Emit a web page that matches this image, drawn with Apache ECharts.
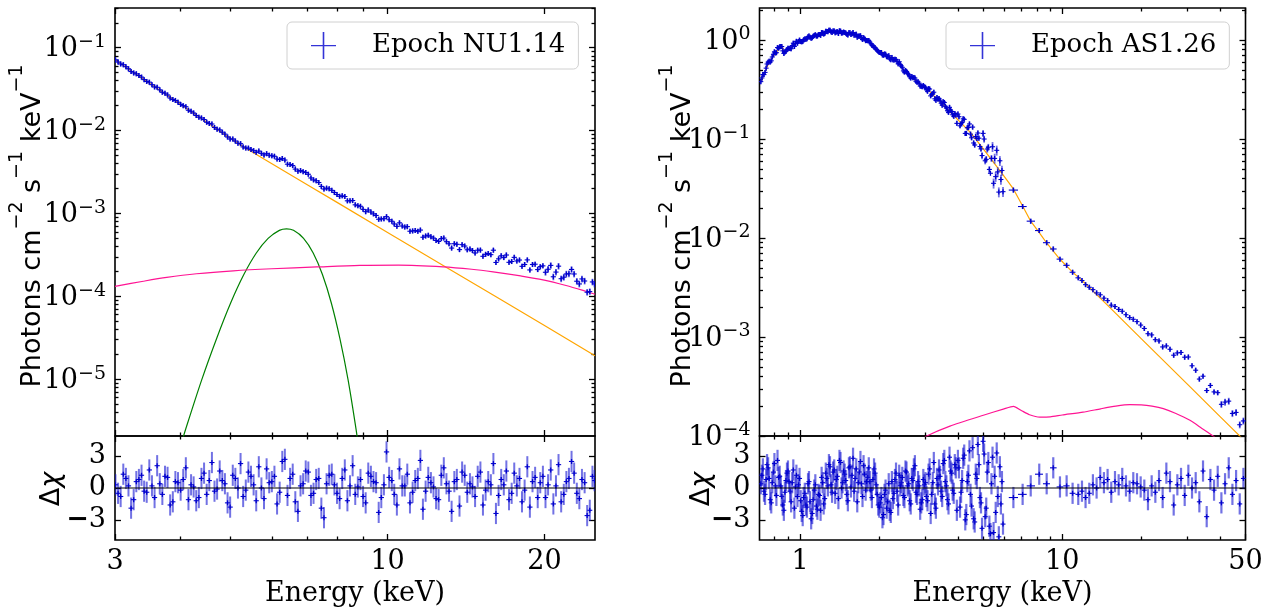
<!DOCTYPE html>
<html><head><meta charset="utf-8">
<script src="https://cdn.jsdelivr.net/npm/echarts@6/dist/echarts.min.js"></script>
<style>html,body{margin:0;padding:0;background:#fff}#c{width:1273px;height:608px}</style>
</head><body><div id="c"></div>
<script>
// ================= DATA =================
// ---- Epoch NU1.14 (NuSTAR), two interleaved sets of bins ----
const nuEnergy = [3.006,3.076,3.148,3.221,3.296,3.373,3.451,3.532,3.614,3.698,3.784,3.873,3.963,4.055,4.150,4.246,4.345,4.446,4.550,4.656,4.764,4.875,4.989,5.105,5.224,5.346,5.470,5.598,5.728,5.861,5.998,6.138,6.281,6.427,6.577,6.730,6.887,7.047,7.211,7.379,7.551,7.727,7.907,8.091,8.279,8.472,8.670,8.872,9.078,9.290,9.506,9.727,9.954,10.19,10.42,10.67,10.91,11.17,11.43,11.69,11.97,12.25,12.53,12.82,13.12,13.43,13.74,14.06,14.39,14.72,15.07,15.42,15.78,16.14,16.52,16.90,17.30,17.70,18.11,18.54,18.97,19.41,19.86,20.32,20.80,21.28,21.78,22.28,22.80,23.33,23.88,24.43,24.95];
const nuFlux = [0.0714,0.0637,0.0590,0.0516,0.0484,0.0442,0.0392,0.0358,0.0333,0.0290,
  0.0269,0.0237,0.0220,0.0200,0.0176,0.0163,0.0145,0.0136,0.0122,0.0109,
  0.01019,9.06e-3,7.91e-3,7.48e-3,6.95e-3,6.15e-3,5.93e-3,5.46e-3,5.31e-3,5.26e-3,
  4.96e-3,4.53e-3,4.59e-3,3.93e-3,3.78e-3,3.24e-3,3.19e-3,2.97e-3,2.54e-3,2.36e-3,
  1.97e-3,1.98e-3,1.79e-3,1.61e-3,1.60e-3,1.42e-3,1.27e-3,1.22e-3,1.05e-3,1.04e-3,
  9.46e-4,8.59e-4,9.14e-4,8.05e-4,6.98e-4,7.05e-4,6.93e-4,6.15e-4,6.08e-4,5.16e-4,
  5.45e-4,5.04e-4,4.59e-4,5.04e-4,4.30e-4,4.31e-4,3.66e-4,4.04e-4,3.71e-4,3.33e-4,
  3.61e-4,3.21e-4,3.18e-4,2.56e-4,3.08e-4,3.15e-4,2.63e-4,2.67e-4,2.30e-4,2.75e-4,
  2.42e-4,2.10e-4,2.33e-4,2.12e-4,1.72e-4,2.31e-4,1.70e-4,1.87e-4,1.86e-4,1.41e-4,
  1.53e-4,1.14e-4,1.41e-4];
const nuRelErr = [0.014,0.014,0.014,0.014,0.014,0.014,0.014,0.014,0.014,0.014,0.014,0.014,0.014,
  0.016,0.016,0.016,0.016,0.016,0.016,0.016,0.016,0.016,0.016,0.016,0.016,0.016,0.016,0.016,
  0.021,0.021,0.021,0.021,0.021,0.021,0.021,0.021,0.021,0.021,0.021,0.021,0.021,0.021,0.021,
  0.028,0.028,0.028,0.028,0.028,0.028,0.028,0.028,0.028,0.028,
  0.037,0.037,0.037,0.037,0.037,0.037,0.037,0.037,0.037,0.037,
  0.051,0.051,0.051,0.051,0.051,0.051,0.051,0.051,0.051,0.051,
  0.069,0.069,0.069,0.069,0.069,0.069,0.069,0.069,0.069,0.069,
  0.092,0.092,0.092,0.092,0.092,0.092,0.092,0.092,0.092,0.092];
const nuResid = [0.3,-0.8,0.9,-1.9,0.6,1.2,-0.4,0.2,2.1,-0.6,1.0,-1.3,0.5,0.8,-1.1,0.1,-0.9,1.4,0.7,-0.3,
  1.6,0.4,-1.8,0.9,2.3,-0.2,1.1,-1.2,0.0,1.8,0.6,-1.5,2.5,-0.7,1.3,-2.2,0.4,1.5,-0.5,0.9,
  -2.8,1.2,0.3,-1.0,1.7,0.2,-0.6,0.8,-1.4,1.1,0.5,-0.9,3.4,0.7,-1.6,0.2,1.3,-0.4,0.9,-2.0,
  1.0,0.1,-1.1,1.9,-0.3,0.6,-1.7,1.2,0.4,-0.8,1.5,-0.2,0.3,-2.4,0.8,1.6,-0.5,0.2,-1.3,2.0,
  0.6,-0.9,1.1,0.3,-1.5,2.2,-0.6,0.9,1.4,-1.0,0.5,-2.1,0.7];
const nuEnergyB = [3.041,3.112,3.184,3.258,3.334,3.412,3.491,3.573,3.656,3.741,3.828,3.917,4.009,4.102,4.198,4.295,4.395,4.498,4.603,4.710,4.819,4.932,5.047,5.164,5.284,5.408,5.534,5.662,5.794,5.929,6.067,6.209,6.353,6.501,6.653,6.808,6.966,7.129,7.295,7.464,7.638,7.816,7.998,8.185,8.375,8.570,8.770,8.974,9.183,9.397,9.616,9.840,10.07,10.30,10.54,10.79,11.04,11.30,11.56,11.83,12.11,12.39,12.68,12.97,13.27,13.58,13.90,14.22,14.55,14.89,15.24,15.60,15.96,16.33,16.71,17.10,17.50,17.91,18.32,18.75,19.19,19.63,20.09,20.56,21.04,21.53,22.03,22.54,23.07,23.60,24.15,24.72];
const nuFluxB = [0.0672,0.0624,0.0557,0.0497,0.0462,0.0412,0.0384,0.0336,0.0310,0.0283,
  0.0247,0.0231,0.0207,0.0194,0.0171,0.0152,0.0142,0.0126,0.0120,0.0104,
  9.56e-3,8.37e-3,7.91e-3,7.03e-3,6.35e-3,6.14e-3,5.72e-3,5.66e-3,5.08e-3,5.04e-3,
  4.90e-3,4.48e-3,4.41e-3,3.90e-3,3.43e-3,3.29e-3,3.12e-3,2.68e-3,2.48e-3,2.12e-3,
  2.02e-3,1.90e-3,1.69e-3,1.63e-3,1.42e-3,1.43e-3,1.24e-3,1.12e-3,1.10e-3,9.88e-4,
  8.51e-4,8.63e-4,8.39e-4,7.46e-4,7.70e-4,6.85e-4,6.10e-4,6.22e-4,6.30e-4,5.34e-4,
  5.22e-4,4.72e-4,4.97e-4,4.56e-4,3.82e-4,4.24e-4,4.20e-4,3.64e-4,3.57e-4,3.60e-4,
  3.04e-4,3.28e-4,3.60e-4,2.83e-4,2.93e-4,2.57e-4,2.95e-4,2.74e-4,2.42e-4,2.08e-4,
  2.44e-4,2.28e-4,1.95e-4,2.36e-4,1.96e-4,1.63e-4,1.86e-4,2.11e-4,1.52e-4,1.62e-4,
  1.12e-4,1.49e-4];
const nuRelErrB = [0.014,0.014,0.014,0.014,0.014,0.014,0.014,0.014,0.014,0.014,0.014,0.014,
  0.016,0.016,0.016,0.016,0.016,0.016,0.016,0.016,0.016,0.016,0.016,0.016,0.016,0.016,0.016,
  0.021,0.021,0.021,0.021,0.021,0.021,0.021,0.021,0.021,0.021,0.021,0.021,0.021,0.021,0.021,
  0.028,0.028,0.028,0.028,0.028,0.028,0.028,0.028,0.028,0.028,
  0.037,0.037,0.037,0.037,0.037,0.037,0.037,0.037,0.037,0.037,
  0.051,0.051,0.051,0.051,0.051,0.051,0.051,0.051,0.051,0.051,
  0.069,0.069,0.069,0.069,0.069,0.069,0.069,0.069,0.069,0.069,
  0.092,0.092,0.092,0.092,0.092,0.092,0.092,0.092,0.092,0.092];
const nuResidB = [-0.5,1.3,0.2,-1.1,0.8,-0.3,1.7,-0.9,0.4,1.1,-1.6,0.6,-0.2,1.9,0.3,-1.2,0.9,-0.6,2.4,-0.1,
  0.7,-1.4,1.2,0.0,-0.8,1.5,0.3,2.0,-1.0,0.5,1.1,-0.4,2.7,0.9,-1.3,0.2,1.6,-0.7,0.8,-1.9,
  0.4,1.3,-0.5,0.9,-1.2,2.1,0.1,-0.8,1.4,0.6,-2.3,0.3,1.0,-0.6,1.8,0.2,-1.4,0.7,2.6,-0.3,
  0.5,-1.0,1.2,0.4,-2.2,0.8,1.5,-0.4,0.1,1.1,-1.6,0.6,2.3,-0.7,0.3,-1.1,1.4,0.9,-0.2,-1.8,
  1.0,0.5,-0.9,1.7,0.2,-1.3,0.6,2.5,-0.5,0.8,-2.6,1.1];
// model components (NU1.14)
const nuContE = [3,3.5,4,4.5,5,5.29,5.5,6,7,8,10,13,16,20,25];
const nuContF = [0.0717,0.0371,0.0209,0.01264,8.05e-3,6.37e-3,5.51e-3,3.98e-3,2.23e-3,1.36e-3,5.90e-4,2.21e-4,1.02e-4,4.43e-5,1.92e-5];
const nuLineE = [4.0,4.1,4.4,4.7,5.0,5.3,5.6,5.9,6.2,6.4,6.6,6.9,7.2,7.5,7.8,8.1,8.4,8.7,8.8];
const nuLineF = [1.5e-6,2.5e-6,9.8e-6,3.1e-5,8.3e-5,1.83e-4,3.33e-4,5.0e-4,6.25e-4,6.52e-4,6.25e-4,5.0e-4,3.33e-4,1.83e-4,8.3e-5,3.1e-5,9.8e-6,2.5e-6,1.5e-6];
const nuReflE = [3,3.4,3.77,4.3,5.06,6.0,7.31,8.85,10.5,12.78,14.5,15.94,18,19.87,22,24,25];
const nuReflF = [1.32e-4,1.52e-4,1.69e-4,1.87e-4,2.03e-4,2.15e-4,2.26e-4,2.36e-4,2.38e-4,2.27e-4,2.12e-4,1.97e-4,1.76e-4,1.58e-4,1.35e-4,1.15e-4,1.06e-4];

// ---- Epoch AS1.26 (AstroSat SXT + LAXPC) ----
const sxtEnergy = [0.708,0.721,0.735,0.748,0.762,0.776,0.791,0.805,0.820,0.836,
  0.851,0.867,0.883,0.899,0.916,0.933,0.951,0.968,0.986,1.005,
  1.023,1.042,1.062,1.081,1.102,1.122,1.143,1.164,1.186,1.208,
  1.230,1.253,1.276,1.300,1.324,1.349,1.374,1.400,1.426,1.452,
  1.479,1.507,1.535,1.563,1.592,1.622,1.652,1.683,1.714,1.746,
  1.778,1.811,1.845,1.879,1.914,1.950,1.986,2.023,2.061,2.099,
  2.138,2.178,2.218,2.259,2.301,2.344,2.388,2.432,2.477,2.523,
  2.570,2.618,2.667,2.716,2.767,2.818,2.871,2.924,2.979,3.034,
  3.090,3.148,3.206,3.266,3.327,3.388,3.451,3.516,3.581,3.648,
  3.715,3.784,3.855,3.926,3.999,4.074,4.150,4.227,4.305,4.385,
  4.467,4.550,4.634,4.721,4.808,4.898,4.989,5.082,5.176,5.272,
  5.370,5.420,5.470,5.521,5.572,5.623,5.675,5.728,5.781,5.834,
  5.888,5.943];
const sxtFlux = [0.380,0.448,0.471,0.573,0.612,0.617,0.718,0.741,0.839,0.855,
  0.859,0.733,0.769,0.826,0.820,0.879,0.861,0.970,0.968,0.964,
  0.965,1.026,1.028,1.096,1.042,1.089,1.130,1.099,1.138,1.189,
  1.148,1.225,1.216,1.253,1.194,1.236,1.208,1.164,1.230,1.183,
  1.191,1.143,1.186,1.140,1.189,1.140,1.069,1.096,1.050,1.057,
  0.986,0.984,0.953,0.887,0.849,0.809,0.766,0.748,0.708,0.723,
  0.679,0.695,0.634,0.632,0.640,0.603,0.604,0.547,0.488,0.493,
  0.458,0.426,0.428,0.419,0.383,0.378,0.343,0.338,0.337,0.314,
  0.323,0.273,0.286,0.255,0.263,0.257,0.230,0.238,0.214,0.193,
  0.209,0.190,0.170,0.175,0.179,0.136,0.147,0.158,0.114,0.131,
  0.112,0.132,0.0871,0.101,0.102,0.0794,0.114,0.0603,0.0793,0.0493,
  0.0638,0.0836,0.0357,0.0637,0.0417,0.0769,0.0466,0.0291,0.0603,0.0390,
  0.0481,0.0294];
const sxtRelErr = [0.028,0.028,0.028,0.028,0.028,0.028,0.028,0.028,0.028,0.028,0.028,0.028,0.028,0.028,0.028,0.028,0.028,0.028,0.028,
  0.018,0.018,0.018,0.018,0.018,0.018,0.018,0.018,0.018,0.018,0.018,0.018,0.018,0.018,0.018,0.018,0.018,0.018,0.018,
  0.018,0.018,0.018,0.018,0.018,0.018,0.018,0.018,0.018,0.018,0.018,0.018,0.018,0.018,0.018,0.018,0.018,0.018,0.018,
  0.023,0.023,0.023,0.023,0.023,0.023,0.023,0.023,0.023,0.023,0.023,0.023,0.023,0.023,0.023,0.023,0.023,0.023,0.023,0.023,0.023,0.023,
  0.032,0.032,0.032,0.032,0.032,0.032,0.032,0.032,0.032,0.032,0.032,0.032,0.032,0.032,0.032,
  0.051,0.051,0.051,0.051,0.051,0.051,0.051,0.051,0.051,0.051,0.051,0.051,
  0.081,0.081,0.081,0.081,0.081,
  0.115,0.115,0.115,0.115,0.115,0.115,0.115,0.115,0.115,0.115,0.115];
const sxtResid = [0.4,1.8,-0.6,2.2,0.9,-1.4,1.5,0.2,2.6,1.1,-0.8,-2.1,0.7,1.6,-0.3,0.5,-1.9,1.2,0.3,
  -1.2,-2.6,-0.5,-1.8,0.6,-2.9,-1.1,0.3,-2.0,-0.7,1.0,-1.5,
  1.4,0.2,2.0,-0.4,1.7,0.8,-1.0,2.4,0.5,1.3,-0.6,1.9,0.1,2.8,0.9,-1.3,1.5,0.4,2.1,-0.2,1.0,0.6,-0.9,1.8,0.3,-1.6,
  -1.4,-2.8,-0.6,-1.9,0.4,-2.3,-1.0,0.8,-0.3,1.2,0.5,-0.7,1.6,0.2,-1.2,0.9,1.8,-0.4,0.6,-2.0,-1.1,0.3,
  -0.8,1.3,-2.4,0.5,-1.5,0.9,1.7,-0.3,2.3,0.6,-1.1,2.9,1.4,-0.5,1.9,
  2.6,-1.8,0.7,3.1,-2.5,1.2,-0.6,3.8,-3.2,0.9,2.2,-1.4,4.4,-2.7,1.5,-3.6,0.4,
  2.9,-4.2,1.1,-2.3,3.3,-0.8,-4.6,2.0,-1.5,0.6,-3.4];
const sxtEnergyB = [0.715,0.728,0.742,0.755,0.769,0.783,0.798,0.812,0.828,0.844,
  0.859,0.875,0.891,0.907,0.924,0.942,0.960,0.977,0.995,1.014,
  1.032,1.052,1.072,1.091,1.112,1.132,1.154,1.175,1.197,1.219,
  1.241,1.265,1.288,1.312,1.336,1.361,1.387,1.413,1.439,1.465,
  1.493,1.521,1.549,1.577,1.607,1.637,1.667,1.699,1.730,1.762,
  1.794,1.828,1.862,1.896,1.932,1.968,2.004,2.042,2.080,2.118,
  2.158,2.198,2.239,2.280,2.322,2.366,2.410,2.454,2.500,2.546,
  2.594,2.642,2.692,2.741,2.793,2.844,2.898,2.951,3.007,3.062,
  3.119,3.177,3.236,3.296,3.358,3.419,3.483,3.549,3.614,3.682,
  3.749,3.819,3.891,3.962,4.036,4.112,4.188,4.266,4.345,4.426,
  4.508,4.592,4.677,4.765,4.852,4.943,5.035,5.129,5.224,5.321];
const sxtFluxB = [0.414,0.448,0.520,0.598,0.600,0.674,0.760,0.745,0.828,0.859,
  0.778,0.757,0.803,0.823,0.817,0.930,0.926,0.929,0.998,0.959,
  1.006,1.018,1.081,1.066,1.057,1.114,1.098,1.134,1.116,1.184,
  1.166,1.222,1.259,1.212,1.233,1.183,1.213,1.240,1.175,1.203,
  1.175,1.126,1.184,1.159,1.120,1.145,1.090,1.104,1.014,1.028,
  0.989,0.988,0.918,0.874,0.835,0.788,0.749,0.748,0.702,0.718,
  0.678,0.646,0.667,0.630,0.637,0.575,0.566,0.530,0.475,0.482,
  0.451,0.414,0.417,0.413,0.374,0.367,0.342,0.347,0.333,0.304,
  0.320,0.283,0.297,0.246,0.252,0.247,0.220,0.234,0.206,0.186,
  0.196,0.176,0.181,0.144,0.168,0.143,0.160,0.114,0.130,0.142,
  0.103,0.0912,0.106,0.115,0.0840,0.0681,0.100,0.0623,0.0826,0.0451];
const sxtRelErrB = [0.028,0.028,0.028,0.028,0.028,0.028,0.028,0.028,0.028,0.028,0.028,0.028,0.028,0.028,0.028,0.028,0.028,0.028,0.028,
  0.018,0.018,0.018,0.018,0.018,0.018,0.018,0.018,0.018,0.018,0.018,0.018,0.018,0.018,0.018,0.018,0.018,0.018,0.018,
  0.018,0.018,0.018,0.018,0.018,0.018,0.018,0.018,0.018,0.018,0.018,0.018,0.018,0.018,0.018,0.018,0.018,
  0.023,0.023,0.023,0.023,0.023,0.023,0.023,0.023,0.023,0.023,0.023,0.023,0.023,0.023,0.023,0.023,0.023,0.023,0.023,0.023,0.023,0.023,
  0.032,0.032,0.032,0.032,0.032,0.032,0.032,0.032,0.032,0.032,0.032,0.032,0.032,0.032,0.032,
  0.051,0.051,0.051,0.051,0.051,0.051,0.051,0.051,0.051,0.051,0.051,0.051,0.051,
  0.081,0.081,0.081,0.081];
const sxtResidB = [1.2,-0.3,0.8,1.9,-1.1,0.5,2.3,-0.7,1.0,0.2,-1.6,-0.4,1.4,0.6,-1.3,1.7,0.1,-0.8,0.9,
  -2.2,-0.9,-1.6,0.4,-1.3,-2.4,-0.2,-1.7,-0.6,-2.1,0.5,-1.0,
  0.9,2.2,0.3,1.5,-0.5,1.1,2.6,0.0,1.6,0.7,-1.2,2.0,1.2,-0.3,1.8,0.5,2.5,-0.8,1.3,0.6,1.9,-0.2,0.8,1.4,-0.6,
  -1.8,-0.9,-2.5,-0.2,-1.3,-2.1,0.6,-0.5,1.4,-1.6,0.2,1.0,-0.9,1.5,0.4,-1.5,0.7,2.1,-0.6,0.2,-1.4,0.8,
  0.5,-1.2,1.8,-0.6,2.4,-1.9,0.3,1.1,-0.8,2.6,0.2,-1.5,1.6,-0.2,2.2,
  -2.1,1.9,-0.4,2.8,-3.0,0.6,3.5,-1.7,-2.9,1.3,4.1,-0.9,-3.8,
  3.2,-1.9,2.4,-4.3];
const laxEnergy = [6.51,7.06,7.58,8.17,8.72,9.24,9.80,10.39,10.95,11.51,
  11.89,12.27,12.68,13.09,13.52,13.96,14.42,14.89,15.38,15.89,16.41,16.94,17.50,18.07,18.66,19.28,19.91,
  20.56,21.23,21.93,22.65,23.39,24.15,24.95,25.76,26.61,27.48,28.38,29.31,30.27,31.26,32.28,33.34,34.43,
  35.56,36.73,37.93,39.17,40.46,41.78,43.15,44.57,46.03,47.53,49.09];
const laxFlux = [3.05e-2,2.08e-2,1.48e-2,1.19e-2,8.97e-3,7.75e-3,6.12e-3,5.30e-3,4.51e-3,3.96e-3,
  3.72e-3,3.38e-3,3.18e-3,3.01e-3,2.79e-3,2.67e-3,2.47e-3,2.33e-3,2.10e-3,2.03e-3,
  1.90e-3,1.82e-3,1.68e-3,1.57e-3,1.51e-3,1.43e-3,1.32e-3,1.22e-3,1.08e-3,1.05e-3,
  9.40e-4,9.12e-4,7.94e-4,8.13e-4,7.52e-4,6.55e-4,6.90e-4,6.98e-4,6.25e-4,6.28e-4,
  5.12e-4,4.62e-4,3.76e-4,4.02e-4,2.88e-4,3.24e-4,2.79e-4,2.74e-4,2.09e-4,2.20e-4,
  2.25e-4,1.69e-4,1.73e-4,1.30e-4,1.42e-4];
const laxRelErr = [0.028,0.028,0.028,0.028,0.028,0.028,0.028,0.028,0.028,0.028,0.028,0.028,0.028,0.028,
  0.028,0.028,0.028,0.028,0.028,0.028,0.028,0.028,0.028,0.028,0.028,0.028,0.028,
  0.041,0.041,0.041,0.041,0.041,0.041,0.041,0.041,0.041,0.041,0.041,0.041,
  0.058,0.058,0.058,0.058,0.058,0.058,0.058,0.058,0.058,
  0.081,0.081,0.081,0.081,0.081,0.081,0.081];
const laxResid = [-0.9,-0.6,0.2,1.3,0.4,1.9,0.1,0.2,-0.5,-0.6,-0.3,-0.9,-0.5,0.3,0.0,1.0,0.5,0.8,-0.4,0.6,
  0.3,0.9,0.2,-0.3,0.5,0.4,0.1,-0.2,-1.1,0.2,-0.4,0.7,-0.9,1.4,0.6,-1.6,0.3,0.9,-0.7,1.2,
  0.0,0.5,-1.3,1.6,-2.7,0.8,-0.2,1.1,-1.4,0.4,1.9,-0.6,0.7,-1.5,0.9];
// model components (AS1.26)
const asContE = [0.708,0.735,0.762,0.791,0.820,0.851,0.860,0.867,0.883,0.916,0.951,1.005,1.062,1.122,1.208,1.276,1.349,1.426,1.535,1.622,1.714,1.811,1.845,1.879,1.914,2.023,2.138,2.301,2.388,2.432,2.477,2.667,2.871,3.090,3.388,3.715,4.074,4.467,4.898,5.370,5.888,6.51,7.06,7.58,8.17,8.72,9.80,10.95,12.27,15,20,30,40,50];
const asContF = [0.376,0.479,0.597,0.689,0.782,0.879,0.891,0.776,0.755,0.828,0.908,0.986,1.062,1.112,1.167,1.211,1.197,1.178,1.146,1.122,1.042,0.966,0.942,0.902,0.822,0.773,0.710,0.628,0.587,0.541,0.495,0.419,0.359,0.310,0.243,0.191,0.149,0.116,0.0853,0.0618,0.0449,0.0313,0.0211,0.0148,0.01135,8.91e-3,6.10e-3,4.52e-3,3.45e-3,2.05e-3,9.64e-4,3.34e-4,1.57e-4,8.77e-5];
const asReflE = [2.9,3.04,3.73,5.0,6.0,6.51,7.0,7.5,8.2,9.0,10,12,14,16,18.1,20,22,24.3,27,30.7,34,37.6,39];
const asReflF = [9.0e-5,1.0e-4,1.26e-4,1.62e-4,1.88e-4,1.99e-4,1.80e-4,1.64e-4,1.55e-4,1.56e-4,1.63e-4,1.74e-4,1.88e-4,2.0e-4,2.07e-4,2.06e-4,2.0e-4,1.89e-4,1.70e-4,1.44e-4,1.2e-4,1.0e-4,0.93e-4];

// ---- axes / ticks ----
const nuXRange = [3, 25];
const nuYRange = [2.06e-6, 0.3016];
const asXRange = [0.70, 50];
const asYRange = [1e-4, 2.107];
const residRange = [-4.9, 4.9];
const nuXMajor = [3, 10, 20];
const nuXLabels = ['3', '10', '20'];
const nuXMinor = [4, 5, 6, 7, 8, 9];
const asXMajor = [1, 10, 50];
const asXLabels = ['1', '10', '50'];
const asXMinor = [0.8, 0.9, 2, 3, 4, 5, 6, 7, 8, 9, 20, 30, 40];
const nuYMajor = [1e-5, 1e-4, 1e-3, 1e-2, 1e-1];
const asYMajor = [1e-4, 1e-3, 1e-2, 1e-1, 1];
const residTicks = [-3, 0, 3];
const legendNames = ['Epoch NU1.14', 'Epoch AS1.26'];

// ================= BUILD =================
const SERIF = "'DejaVu Serif', serif";
const SANS = "'DejaVu Sans', sans-serif";
const BLUE = '#0000cd';

function minorLog(range) {
  const out = [];
  for (let k = -7; k <= 1; k++) for (let m = 2; m <= 9; m++) {
    const v = Number((m * Math.pow(10, k)).toPrecision(6));
    if (v > range[0] && v < range[1]) out.push(v);
  }
  return out;
}
function edges(E) {
  const n = E.length, lo = [], hi = [];
  for (let i = 0; i < n; i++) {
    lo.push(i > 0 ? Math.sqrt(E[i - 1] * E[i]) : E[0] / Math.sqrt(E[1] / E[0]));
    hi.push(i < n - 1 ? Math.sqrt(E[i] * E[i + 1]) : E[n - 1] * Math.sqrt(E[n - 1] / E[n - 2]));
  }
  return { lo, hi };
}
function specRows(E, F, rel) {
  const e = edges(E);
  return E.map((x, i) => [x, F[i], e.lo[i], e.hi[i], F[i] * (1 - rel[i]), F[i] * (1 + rel[i])]);
}
function residRows(E, R) {
  const e = edges(E);
  return E.map((x, i) => [x, R[i], e.lo[i], e.hi[i], R[i] - 1, R[i] + 1]);
}
function pairs(X, Y) { return X.map((x, i) => [x, Y[i]]); }

function makeErrRender(barWidth) {
  return function (params, api) {
    const x = api.value(0), y = api.value(1);
    const c = api.coord([x, y]);
    const l = api.coord([api.value(2), y]), r = api.coord([api.value(3), y]);
    const b = api.coord([x, api.value(4)]), t = api.coord([x, api.value(5)]);
    const x1 = Math.min(l[0], c[0] - 2.5), x2 = Math.max(r[0], c[0] + 2.5);
    const y1 = Math.min(t[1], c[1] - 2.5), y2 = Math.max(b[1], c[1] + 2.5);
    return {
      type: 'group', children: [
        { type: 'line', shape: { x1: c[0], y1: y1, x2: c[0], y2: y2 }, style: { stroke: 'rgba(20,20,210,0.6)', lineWidth: barWidth } },
        { type: 'line', shape: { x1: x1, y1: c[1], x2: x2, y2: c[1] }, style: { stroke: BLUE, lineWidth: 1.1 } },
        { type: 'line', shape: { x1: c[0], y1: c[1] - 2.5, x2: c[0], y2: c[1] + 2.5 }, style: { stroke: BLUE, lineWidth: 1.3 } }
      ]
    };
  };
}

function supLabel(v) {
  const e = Math.round(Math.log10(v));
  return '{b|10}{s|' + (e < 0 ? '\u2212' + (-e) : String(e)) + '}';
}
const supRich = {
  b: { fontFamily: SERIF, fontSize: 27, lineHeight: 30, verticalAlign: 'bottom', color: '#000' },
  s: { fontFamily: SERIF, fontSize: 19, lineHeight: 20, verticalAlign: 'top', color: '#000' }
};
function residLabel(v) { return v < 0 ? '{m|\u2212}{n|' + (-v) + '}' : '{n|' + v + '}'; }
const residRich = {
  m: { fontFamily: SERIF, fontSize: 27, fontWeight: 'bold', color: '#000' },
  n: { fontFamily: SERIF, fontSize: 27, color: '#000' }
};

const xAxes = [], yAxes = [];
function tickAxis(base, pos, values, len, label) {
  return Object.assign({}, base, {
    position: pos,
    axisLine: { show: false, onZero: false },
    splitLine: { show: false },
    axisTick: { show: values.length > 0, inside: true, length: len, lineStyle: { color: '#000', width: 1.3 }, customValues: values },
    axisLabel: label ? Object.assign({ show: true, customValues: values }, label) : { show: false },
    axisPointer: { show: false }
  });
}
function addX(grid, range, major, minor, label, name) {
  const base = { gridIndex: grid, type: 'log', logBase: 10, min: range[0], max: range[1] };
  const idx = xAxes.length;
  const main = tickAxis(base, 'bottom', major, 6, label);
  if (name) Object.assign(main, { name: name, nameLocation: 'middle', nameGap: 40, nameTextStyle: { fontFamily: SERIF, fontSize: 27, color: '#000' } });
  xAxes.push(main, tickAxis(base, 'bottom', minor, 3.5, null), tickAxis(base, 'top', major, 6, null), tickAxis(base, 'top', minor, 3.5, null));
  return idx;
}
function addY(grid, type, range, major, minor, label) {
  const base = { gridIndex: grid, type: type, min: range[0], max: range[1] };
  if (type === 'log') base.logBase = 10;
  const idx = yAxes.length;
  yAxes.push(tickAxis(base, 'left', major, 6, label), tickAxis(base, 'left', minor, 3.5, null),
    tickAxis(base, 'right', major, 6, null), tickAxis(base, 'right', minor, 3.5, null));
  return idx;
}
function xLabelCfg(major, labels) {
  return {
    margin: 8, fontFamily: SERIF, fontSize: 27, color: '#000',
    formatter: v => labels[major.findIndex(m => Math.abs(m - v) / m < 1e-6)] || ''
  };
}

const X0 = addX(0, nuXRange, nuXMajor, nuXMinor, null);
const X1 = addX(1, nuXRange, nuXMajor, nuXMinor, xLabelCfg(nuXMajor, nuXLabels), 'Energy (keV)');
const X2 = addX(2, asXRange, asXMajor, asXMinor, null);
const X3 = addX(3, asXRange, asXMajor, asXMinor, xLabelCfg(asXMajor, asXLabels), 'Energy (keV)');
const ylog = { margin: 9, formatter: supLabel, rich: supRich };
const yres = { margin: 9, formatter: residLabel, rich: residRich };
const Y0 = addY(0, 'log', nuYRange, nuYMajor, minorLog(nuYRange), ylog);
const Y1 = addY(1, 'value', residRange, residTicks, [], yres);
const Y2 = addY(2, 'log', asYRange, asYMajor, minorLog(asYRange), ylog);
const Y3 = addY(3, 'value', residRange, residTicks, [], yres);

function modelLine(xi, yi, X, Y, color, smooth) {
  return { type: 'line', xAxisIndex: xi, yAxisIndex: yi, data: pairs(X, Y), showSymbol: false, symbol: 'none',
    smooth: smooth, lineStyle: { color: color, width: 1.2 }, silent: true, z: 2 };
}
function errSeries(name, xi, yi, data, barWidth) {
  return { type: 'custom', name: name, xAxisIndex: xi, yAxisIndex: yi, data: data, renderItem: makeErrRender(barWidth),
    encode: { x: 0, y: 1 }, clip: true, itemStyle: { color: BLUE }, z: 3, silent: true };
}
function zeroLine(xi, yi, range) {
  return { type: 'line', xAxisIndex: xi, yAxisIndex: yi, data: [[range[0], 0], [range[1], 0]], showSymbol: false, symbol: 'none',
    lineStyle: { color: '#000', width: 1.2 }, silent: true, z: 4 };
}

const CROSS = 'path://M0,13h25v1.3h-25z M11.7,0h1.6v27h-1.6z';
function legendCfg(name, left) {
  return {
    data: [{ name: name, icon: CROSS }], left: left, top: 22, orient: 'horizontal',
    itemWidth: 25, itemHeight: 27, padding: [10, 13, 10, 24],
    borderColor: '#d0d0d0', borderWidth: 1, borderRadius: 5, backgroundColor: 'rgba(255,255,255,0.85)',
    itemStyle: { color: 'rgba(0,0,205,0.8)' },
    textStyle: { fontFamily: SERIF, fontSize: 26, color: '#000', padding: [0, 0, 0, 31] },
    selectedMode: false
  };
}

const titleRich = {
  a: { fontFamily: SANS, fontSize: 27, lineHeight: 38, verticalAlign: 'bottom', fill: '#000', color: '#000' },
  s: { fontFamily: SANS, fontSize: 19, lineHeight: 20, verticalAlign: 'top', fill: '#000', color: '#000' }
};
const titleText = '{a|Photons cm}{s|\u22122}{a| s}{s|\u22121}{a| keV}{s|\u22121}';
const dchiRich = {
  a: { fontFamily: SANS, fontSize: 27, fill: '#000' },
  i: { fontFamily: SANS, fontSize: 27, fontStyle: 'italic', fill: '#000' }
};

const option = {
  animation: false,
  backgroundColor: '#fff',
  grid: [
    { left: 115, top: 8, width: 480, height: 428, show: true, borderColor: '#000', borderWidth: 1.6, backgroundColor: 'rgba(0,0,0,0)' },
    { left: 115, top: 436, width: 480, height: 107, show: true, borderColor: '#000', borderWidth: 1.6, backgroundColor: 'rgba(0,0,0,0)' },
    { left: 759.5, top: 8, width: 486, height: 428, show: true, borderColor: '#000', borderWidth: 1.6, backgroundColor: 'rgba(0,0,0,0)' },
    { left: 759.5, top: 436, width: 486, height: 107, show: true, borderColor: '#000', borderWidth: 1.6, backgroundColor: 'rgba(0,0,0,0)' }
  ],
  xAxis: xAxes,
  yAxis: yAxes,
  legend: [legendCfg(legendNames[0], 287), legendCfg(legendNames[1], 946)],
  graphic: [
    { type: 'text', x: 27, y: 226, rotation: Math.PI / 2, style: { text: titleText, rich: titleRich, align: 'center', verticalAlign: 'middle' } },
    { type: 'text', x: 677, y: 226, rotation: Math.PI / 2, style: { text: titleText, rich: titleRich, align: 'center', verticalAlign: 'middle' } },
    { type: 'text', x: 52, y: 489, rotation: Math.PI / 2, style: { text: '{a|\u0394}{i|\u03c7}', rich: dchiRich, align: 'center', verticalAlign: 'middle' } },
    { type: 'text', x: 702, y: 489, rotation: Math.PI / 2, style: { text: '{a|\u0394}{i|\u03c7}', rich: dchiRich, align: 'center', verticalAlign: 'middle' } }
  ],
  series: [
    modelLine(X0, Y0, nuContE, nuContF, '#ffa500', false),
    modelLine(X0, Y0, nuLineE, nuLineF, '#008000', 0.3),
    modelLine(X0, Y0, nuReflE, nuReflF, '#ff1493', 0.3),
    errSeries(legendNames[0], X0, Y0, specRows(nuEnergy, nuFlux, nuRelErr).concat(specRows(nuEnergyB, nuFluxB, nuRelErrB)), 1.8),
    errSeries('nuResid', X1, Y1, residRows(nuEnergy, nuResid).concat(residRows(nuEnergyB, nuResidB)), 2.0),
    zeroLine(X1, Y1, nuXRange),
    modelLine(X2, Y2, asContE, asContF, '#ffa500', false),
    modelLine(X2, Y2, asReflE, asReflF, '#ff1493', 0.2),
    errSeries(legendNames[1], X2, Y2, specRows(sxtEnergy, sxtFlux, sxtRelErr).concat(specRows(sxtEnergyB, sxtFluxB, sxtRelErrB), specRows(laxEnergy, laxFlux, laxRelErr)), 1.8),
    errSeries('asResid', X3, Y3, residRows(sxtEnergy, sxtResid).concat(residRows(sxtEnergyB, sxtResidB), residRows(laxEnergy, laxResid)), 2.2),
    zeroLine(X3, Y3, asXRange)
  ]
};
const chart = echarts.init(document.getElementById('c'), null, { renderer: 'canvas' });
chart.setOption(option);
</script>
</body></html>
